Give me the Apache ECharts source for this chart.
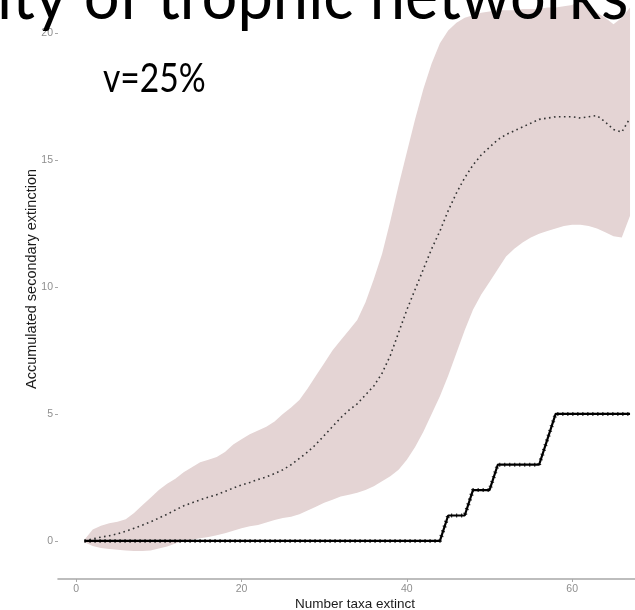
<!DOCTYPE html>
<html>
<head>
<meta charset="utf-8">
<script src="https://cdn.jsdelivr.net/npm/echarts@6/dist/echarts.min.js"></script>
<style>html,body{margin:0;padding:0;background:#fff;}#c{width:635px;height:610px;}</style>
</head>
<body>
<div id="c"></div>
<script>
// Number of taxa removed
const taxa = [1,2,3,4,5,6,7,8,9,10,11,12,13,14,15,16,17,18,19,20,21,22,23,24,25,26,27,28,29,30,31,32,33,34,35,36,37,38,39,40,41,42,43,44,45,46,47,48,49,50,51,52,53,54,55,56,57,58,59,60,61,62,63,64,65,66,67];
// Mean accumulated secondary extinctions (dotted line)
const meanExt = [0.0,0.08,0.15,0.2,0.28,0.38,0.5,0.62,0.75,0.9,1.05,1.22,1.38,1.5,1.62,1.72,1.82,1.95,2.08,2.2,2.3,2.42,2.52,2.65,2.8,3.0,3.25,3.5,3.8,4.15,4.5,4.85,5.15,5.4,5.75,6.1,6.6,7.3,8.2,9.1,9.9,10.7,11.5,12.2,13.0,13.7,14.3,14.8,15.2,15.5,15.8,16.0,16.15,16.3,16.45,16.6,16.65,16.7,16.7,16.7,16.65,16.7,16.75,16.5,16.2,16.1,16.65];
// Upper edge of the band
const upperExt = [0.05,0.45,0.6,0.7,0.75,0.85,1.1,1.4,1.7,2.0,2.25,2.45,2.7,2.9,3.1,3.2,3.3,3.5,3.8,4.0,4.2,4.35,4.5,4.7,5.0,5.25,5.55,6.0,6.5,7.0,7.5,7.9,8.3,8.7,9.4,10.3,11.3,12.6,14.0,15.3,16.6,17.8,18.8,19.6,20.1,20.4,20.6,20.7,20.8,20.85,20.9,20.9,20.9,20.95,20.95,20.95,21.0,21.0,21.05,21.1,21.3,21.1,20.8,20.6,20.35,20.6,21.0];
// Lower edge of the band
const lowerExt = [-0.05,-0.2,-0.28,-0.32,-0.35,-0.38,-0.4,-0.4,-0.38,-0.3,-0.22,-0.1,0.0,0.05,0.1,0.15,0.22,0.3,0.4,0.5,0.58,0.63,0.72,0.82,0.9,0.95,1.05,1.2,1.35,1.5,1.62,1.75,1.82,1.9,2.0,2.15,2.35,2.55,2.8,3.2,3.7,4.3,5.0,5.7,6.5,7.4,8.3,9.1,9.7,10.2,10.7,11.2,11.5,11.75,11.95,12.1,12.2,12.3,12.4,12.45,12.45,12.4,12.3,12.15,12.0,11.95,12.8];
// Observed (deterministic) sequence: step line
const observedExt = [0,0,0,0,0,0,0,0,0,0,0,0,0,0,0,0,0,0,0,0,0,0,0,0,0,0,0,0,0,0,0,0,0,0,0,0,0,0,0,0,0,0,0,0,1,1,1,2,2,2,3,3,3,3,3,3,4,5,5,5,5,5,5,5,5,5,5];
// Tick labels
const xTicks = [0,20,40,60];
const yTicks = [0,5,10,15,20];
const titleText = 'ity of trophic networks';
const subText = 'v=25%';
const xName = 'Number taxa extinct';
const yName = 'Accumulated secondary extinction';

const pair = (arr) => taxa.map((t, i) => [t, arr[i]]);

const chart = echarts.init(document.getElementById('c'), null, {renderer: 'canvas'});
const axisFont = 'Liberation Sans, Arial, sans-serif';

function renderBand(params, api) {
  if (params.dataIndex !== 0) return null;
  const pts = [];
  for (let i = 0; i < taxa.length; i++) pts.push(api.coord([taxa[i], upperExt[i]]));
  for (let i = taxa.length - 1; i >= 0; i--) pts.push(api.coord([taxa[i], lowerExt[i]]));
  return {type: 'polygon', shape: {points: pts}, style: {fill: '#e4d4d4', stroke: null}, silent: true};
}

chart.setOption({
  animation: false,
  backgroundColor: '#ffffff',
  grid: {left: 58, right: 0, top: 0, bottom: 31, containLabel: false, outerBoundsMode: 'none'},
  xAxis: {
    type: 'value', min: -2.2, max: 67.6,
    splitLine: {show: false},
    axisLine: {show: true, onZero: false, lineStyle: {color: '#a8a8a8', width: 1.6}},
    axisTick: {show: true, length: 3, lineStyle: {color: '#a8a8a8'}, customValues: xTicks},
    axisLabel: {color: '#8f8f8f', fontSize: 10.5, fontFamily: axisFont, margin: 5, customValues: xTicks},
    name: xName, nameLocation: 'middle', nameGap: 18, nameMoveOverlap: false,
    nameTextStyle: {color: '#1a1a1a', fontSize: 13.5, fontFamily: axisFont, padding: [0, 0, 0, 17]}
  },
  yAxis: {
    type: 'value', min: -1.5, max: 21.3,
    splitLine: {show: false},
    axisLine: {show: false, onZero: false},
    axisTick: {show: true, length: 3, lineStyle: {color: '#a8a8a8'}, customValues: yTicks},
    axisLabel: {color: '#8f8f8f', fontSize: 10.5, fontFamily: axisFont, margin: 5, customValues: yTicks},
    name: yName, nameLocation: 'middle', nameGap: 19, nameRotate: 90, nameMoveOverlap: false,
    nameTextStyle: {color: '#1a1a1a', fontSize: 14.5, fontFamily: axisFont, padding: [0, 0, 0, 21]}
  },
  series: [
    {type: 'custom', renderItem: renderBand, data: [[taxa[0], lowerExt[0]]], clip: true, silent: true, z: 1},
    {type: 'line', data: pair(meanExt), symbol: 'none', z: 3,
     lineStyle: {color: '#333333', width: 1.6, type: [1.6, 3.4]}},
    {type: 'line', data: pair(observedExt), symbol: 'none', z: 4,
     lineStyle: {color: '#333333', width: 4, type: [1.2, 3.8]}},
    {type: 'line', data: pair(observedExt), symbol: 'none', z: 5,
     lineStyle: {color: '#000000', width: 2.2}}
  ],
  graphic: [
    {type: 'text', x: -3, y: -37, scaleX: 0.93, z: 100,
     style: {text: titleText, font: '68px Lato, "Open Sans", sans-serif', fill: '#000000', verticalAlign: 'top'}},
    {type: 'text', x: 103, y: 58, scaleX: 0.82, z: 100,
     style: {text: subText, font: '41px Lato, "Open Sans", sans-serif', fill: '#000000', verticalAlign: 'top'}}
  ]
});
</script>
</body>
</html>
